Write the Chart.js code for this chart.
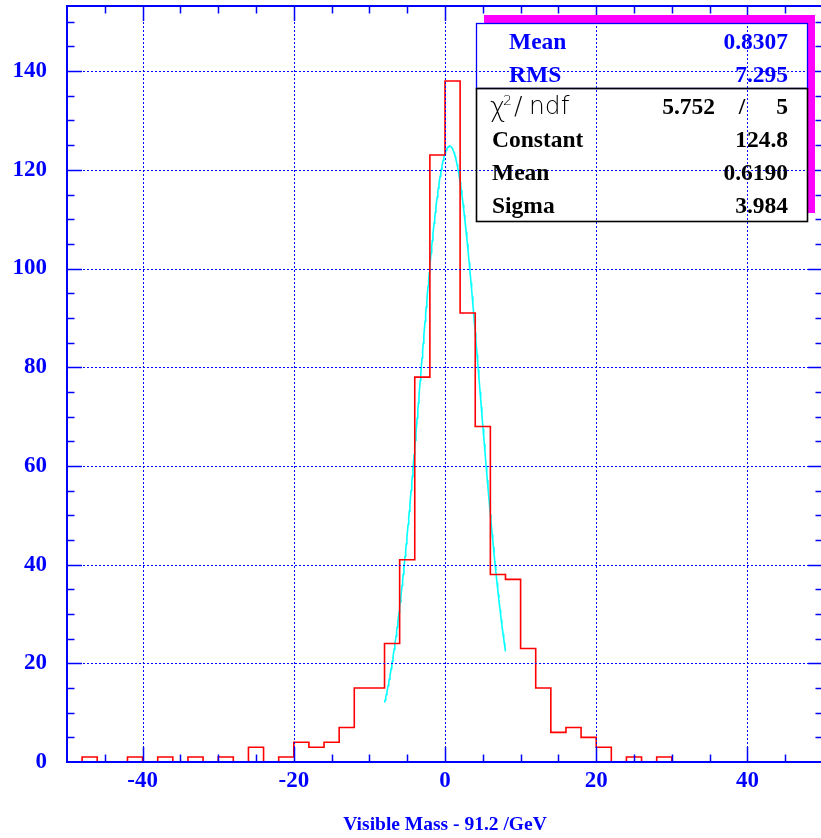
<!DOCTYPE html>
<html>
<head>
<meta charset="utf-8">
<script src="https://cdn.jsdelivr.net/npm/chart.js@4.4.1/dist/chart.umd.min.js"></script>
<style>
  html, body { margin: 0; padding: 0; overflow: hidden; background: #ffffff; }
  canvas { display: block; }
</style>
</head>
<body>
<canvas id="massChart" width="826" height="838"></canvas>
<script>
// Histogram binning: 50 bins of width 2 GeV from -50 to 50
const xMin = -50;
const xMax = 50;
const binWidth = 2;
const binCounts = [
  0, 1, 0, 0, 1, 0, 1, 0, 1, 0,
  1, 0, 3, 0, 1, 4, 3, 4, 7, 15,
  15, 24, 41, 78, 123, 138, 91, 68, 38, 37,
  23, 15, 6, 7, 5, 3, 0, 1, 0, 1,
  0, 0, 0, 0, 0, 0, 0, 0, 0, 0
];

// Axis ticks
const xTickValues = [-40, -20, 0, 20, 40];
const yTickValues = [0, 20, 40, 60, 80, 100, 120, 140];
const yMax = 153.2;
const minorStep = 5;
const majorStep = 20;

// Statistics box contents
const statNames = ['Mean', 'RMS'];
const statValues = ['0.8307', '7.295'];
const chi2Text = '5.752';
const ndfText = '5';
const fitParamNames = ['Constant', 'Mean', 'Sigma'];
const fitParamText = ['124.8', '0.6190', '3.984'];
const fitRange = [-8, 8];

// Histogram outline: one point per bin low edge plus the closing edge
const histPoints = binCounts.map((c, i) => ({ x: xMin + i * binWidth, y: c }));
histPoints.push({ x: xMax, y: binCounts[binCounts.length - 1] });

// Gaussian fit curve drawn from the fitted parameters over the fit range
const [fitConst, fitMean, fitSigma] = fitParamText.map(Number);
const fitPoints = [];
const fitSteps = 200;
for (let k = 0; k <= fitSteps; k++) {
  const x = fitRange[0] + (fitRange[1] - fitRange[0]) * k / fitSteps;
  const z = (x - fitMean) / fitSigma;
  fitPoints.push({ x: x, y: fitConst * Math.exp(-0.5 * z * z) });
}

const BLUE = '#0000ff';
const serifBold = (size) => 'bold ' + size + 'px "Liberation Serif", "Times New Roman", serif';

// Frame, dotted grid and inward tick marks
const framePlugin = {
  id: 'frame',
  afterDatasetsDraw(chart) {
    const ctx = chart.ctx;
    const ca = chart.chartArea;
    const xs = chart.scales.x;
    const ys = chart.scales.y;
    ctx.save();

    // dotted grid at major ticks
    ctx.strokeStyle = BLUE;
    ctx.lineWidth = 1;
    ctx.setLineDash([2, 2]);
    xTickValues.forEach(v => {
      const px = Math.round(xs.getPixelForValue(v)) + 0.5;
      ctx.beginPath(); ctx.moveTo(px, ca.top); ctx.lineTo(px, ca.bottom); ctx.stroke();
    });
    yTickValues.forEach(v => {
      if (v === 0) return;
      const py = Math.round(ys.getPixelForValue(v)) + 0.5;
      ctx.beginPath(); ctx.moveTo(ca.left, py); ctx.lineTo(ca.right, py); ctx.stroke();
    });
    ctx.setLineDash([]);

    // tick marks on all four sides, pointing inward
    ctx.lineWidth = 1.5;
    for (let v = xMin + minorStep; v < xMax; v += minorStep) {
      const len = (v % majorStep === 0) ? 15 : 7.5;
      const px = Math.round(xs.getPixelForValue(v)) + 0.5;
      ctx.beginPath();
      ctx.moveTo(px, ca.bottom); ctx.lineTo(px, ca.bottom - len);
      ctx.moveTo(px, ca.top); ctx.lineTo(px, ca.top + len);
      ctx.stroke();
    }
    for (let v = minorStep; v < yMax; v += minorStep) {
      const len = (v % majorStep === 0) ? 15 : 7.5;
      const py = Math.round(ys.getPixelForValue(v)) + 0.5;
      ctx.beginPath();
      ctx.moveTo(ca.left, py); ctx.lineTo(ca.left + len, py);
      ctx.moveTo(ca.right, py); ctx.lineTo(ca.right - len, py);
      ctx.stroke();
    }

    // frame
    ctx.lineWidth = 2;
    ctx.strokeRect(ca.left, ca.top, ca.right - ca.left, ca.bottom - ca.top);
    ctx.restore();
  }
};

// Statistics / fit-result box in the upper right corner
const statsPlugin = {
  id: 'statsBox',
  afterDraw(chart) {
    const ctx = chart.ctx;
    ctx.save();
    const boxL = 476, boxR = 807, boxT = 23, boxMid = 88, boxB = 221;

    // magenta drop shadow (top and right bands)
    ctx.fillStyle = '#ff00ff';
    ctx.fillRect(boxL + 8, boxT - 8, boxR - boxL, 8);
    ctx.fillRect(boxR, boxT - 8, 8, boxB - boxT);

    // upper (blue) and lower (black) panels
    ctx.strokeStyle = BLUE;
    ctx.lineWidth = 1.3;
    ctx.strokeRect(boxL + 0.5, boxT + 0.5, boxR - boxL, boxMid - boxT);
    ctx.strokeStyle = '#000000';
    ctx.lineWidth = 1.6;
    ctx.strokeRect(boxL + 0.5, boxMid + 0.5, boxR - boxL, boxB - boxMid);

    const valueRight = 788;
    ctx.textBaseline = 'alphabetic';
    ctx.font = serifBold(23.5);

    // histogram statistics
    ctx.fillStyle = BLUE;
    const topBaselines = [48.5, 81.5];
    statNames.forEach((name, i) => {
      ctx.textAlign = 'left';
      ctx.fillText(name, 509, topBaselines[i]);
      ctx.textAlign = 'right';
      ctx.fillText(statValues[i], valueRight, topBaselines[i]);
    });

    // chi-square / ndf row
    ctx.fillStyle = '#000000';
    const chiY = 113.5;
    ctx.textAlign = 'left';
    ctx.font = '200 26px "DejaVu Sans", sans-serif';
    ctx.fillText('\u03C7', 490, chiY + 2);
    ctx.font = '200 14px "DejaVu Sans", sans-serif';
    ctx.fillText('2', 503, chiY - 9);
    ctx.font = '200 25px "DejaVu Sans", sans-serif';
    ctx.fillText('/', 514, chiY);
    ctx.fillText('ndf', 529, chiY);
    ctx.font = serifBold(23.5);
    ctx.textAlign = 'right';
    ctx.fillText(chi2Text, 715, chiY);
    ctx.textAlign = 'center';
    ctx.fillText('/', 742, chiY);
    ctx.textAlign = 'right';
    ctx.fillText(ndfText, valueRight, chiY);

    // fit parameters
    const fitBaselines = [147, 180, 213];
    fitParamNames.forEach((name, i) => {
      ctx.textAlign = 'left';
      ctx.fillText(name, 492, fitBaselines[i]);
      ctx.textAlign = 'right';
      ctx.fillText(fitParamText[i], valueRight, fitBaselines[i]);
    });
    ctx.restore();
  }
};

// Fixed axis box sizes, with no extra room reserved for overhanging labels
function fixAxisBox(size) {
  return (s) => {
    if (s.isHorizontal()) { s.height = size; } else { s.width = size; }
    s.paddingTop = 0; s.paddingBottom = 0; s.paddingLeft = 0; s.paddingRight = 0;
  };
}

new Chart(document.getElementById('massChart'), {
  type: 'line',
  data: {
    datasets: [
      {
        data: histPoints,
        borderColor: '#ff0000',
        borderWidth: 1.6,
        stepped: 'before',
        pointRadius: 0,
        fill: false
      },
      {
        data: fitPoints,
        borderColor: '#00ffff',
        borderWidth: 1.6,
        pointRadius: 0,
        tension: 0,
        fill: false
      }
    ]
  },
  options: {
    responsive: false,
    animation: false,
    devicePixelRatio: 1,
    layout: { padding: { top: 6, right: 3, left: 0, bottom: 0 } },
    plugins: { legend: { display: false }, tooltip: { enabled: false } },
    scales: {
      x: {
        type: 'linear',
        min: xMin,
        max: xMax,
        grid: { display: false, drawTicks: false },
        border: { display: false },
        afterBuildTicks: (s) => { s.ticks = xTickValues.map(v => ({ value: v })); },
        afterFit: fixAxisBox(76),
        ticks: {
          color: BLUE,
          font: { family: '"Liberation Serif", "Times New Roman", serif', size: 23, weight: 'bold' },
          padding: 5,
          maxRotation: 0,
          autoSkip: false
        },
        title: {
          display: true,
          text: 'Visible Mass - 91.2 /GeV',
          color: BLUE,
          font: { family: '"Liberation Serif", "Times New Roman", serif', size: 19.5, weight: 'bold', lineHeight: 1 },
          padding: { top: 0, bottom: 3 }
        }
      },
      y: {
        type: 'linear',
        min: 0,
        max: yMax,
        grid: { display: false, drawTicks: false },
        border: { display: false },
        afterBuildTicks: (s) => { s.ticks = yTickValues.map(v => ({ value: v })); },
        afterFit: fixAxisBox(67),
        ticks: {
          color: BLUE,
          font: { family: '"Liberation Serif", "Times New Roman", serif', size: 23, weight: 'bold' },
          padding: 20
        }
      }
    }
  },
  plugins: [framePlugin, statsPlugin]
});
</script>
</body>
</html>
